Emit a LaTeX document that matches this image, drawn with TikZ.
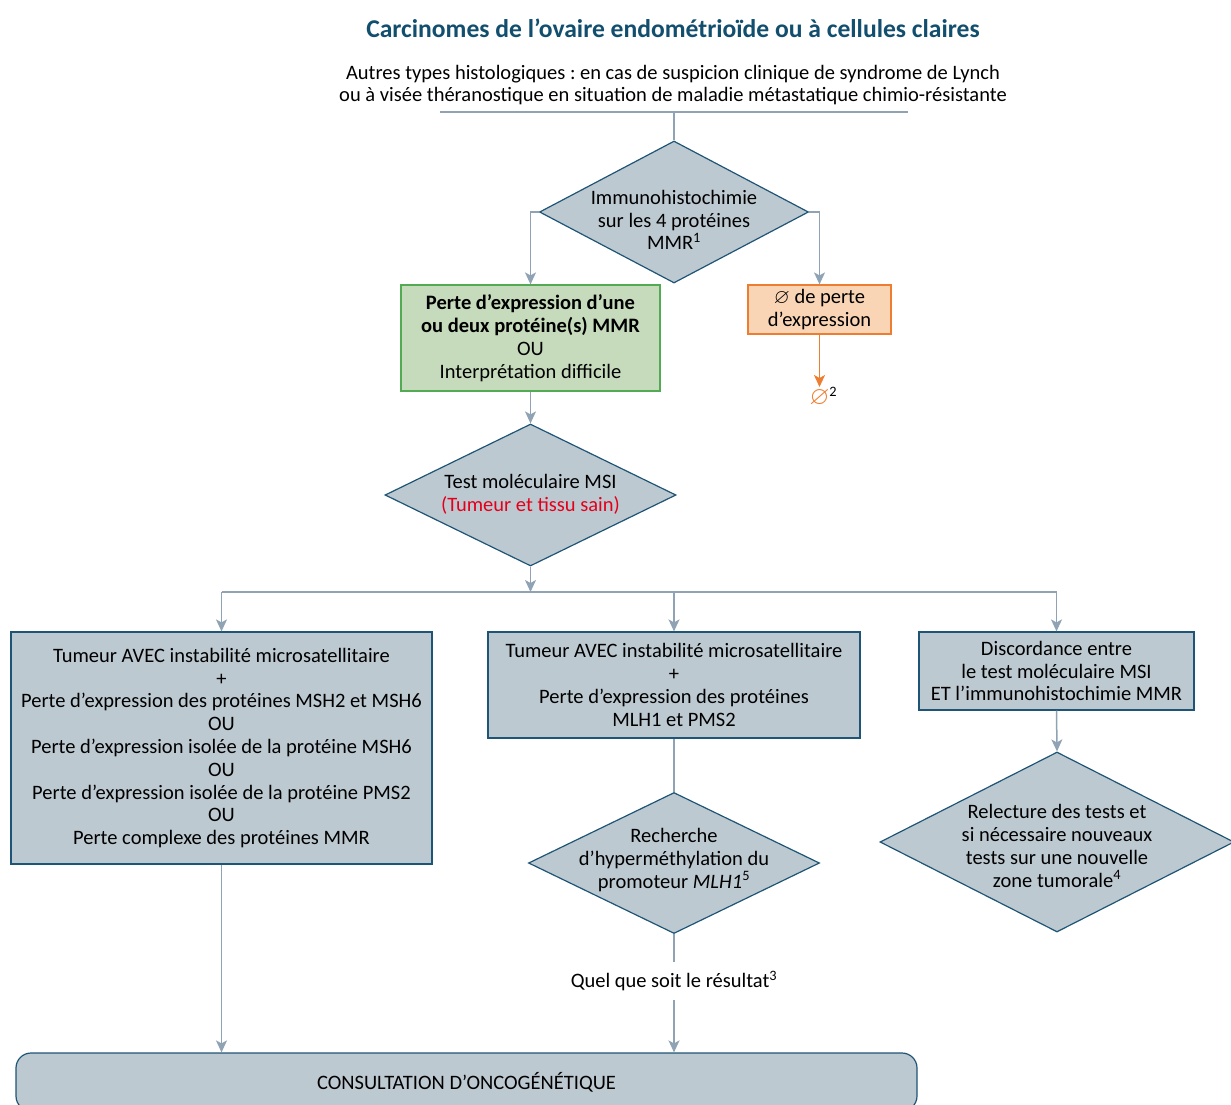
\documentclass[tikz,border=0pt]{standalone}
\usepackage{amssymb}
\usepackage{fontspec}
\setmainfont{Carlito}
\usepackage{tikz}
\usetikzlibrary{shapes.geometric}
\usetikzlibrary{arrows.meta}
\frenchspacing

\begin{document}
\begin{tikzpicture}[x=1pt,y=1pt,yscale=-1,xscale=1,
  every node/.style={font=\fontsize{20.5}{22.8}\selectfont},
  texte/.style={align=center, inner sep=0pt},
  boite/.style={draw={rgb, 255:red, 30; green, 84; blue, 118}, fill={rgb, 255:red, 189; green, 201; blue, 209}, line width=1.2pt, align=center, inner sep=0pt},
  losange/.style={diamond, draw={rgb, 255:red, 30; green, 84; blue, 118}, fill={rgb, 255:red, 189; green, 201; blue, 209}, line width=1.2pt, inner sep=0pt},
  lien/.style={draw={rgb, 255:red, 143; green, 163; blue, 181}, line width=1.5pt},
  fleche/.style={lien, -{Stealth[length=12pt, width=11pt, inset=3pt]}},
]
\clip (0,0) rectangle (1231,1104);

% Text Node
\node [texte, font=\fontsize{25.6}{30}\selectfont\bfseries, text={rgb, 255:red, 18; green, 78; blue, 110}] (titre) at (673,28) {Carcinomes de l’ovaire endométrioïde ou à cellules claires};
% Text Node
\node [texte] (soustitre) at (673,85) {Autres types histologiques : en cas de suspicion clinique de syndrome de Lynch\\ou à visée théranostique en situation de maladie métastatique chimio-résistante};

%Shape: Line under the subtitle
\coordinate (trait-g) at (440,112);
\coordinate (trait-d) at (908,112);
\coordinate (trait-m) at (674,112);

%Shape: Diamond
\node [losange, minimum width=269pt, minimum height=142pt] (ihc) at (674,212) {};
% Text Node
\node [texte] (ihc-txt) at (674,220) {Immunohistochimie\\sur les 4 protéines\\MMR\textsuperscript{1}};

%Shape: Rectangle
\node [boite, draw={rgb, 255:red, 82; green, 170; blue, 82}, fill={rgb, 255:red, 198; green, 219; blue, 187}, minimum width=259pt, minimum height=106pt] (perte) at (530.5,338) {\textbf{Perte d’expression d’une}\\\textbf{ou deux protéine(s) MMR}\\OU\\Interprétation difficile};
%Shape: Rectangle
\node [boite, draw={rgb, 255:red, 237; green, 125; blue, 49}, fill={rgb, 255:red, 250; green, 213; blue, 181}, minimum width=143pt, minimum height=49pt] (sansperte) at (819.5,309.5) {$\varnothing$ de perte\\d’expression};
% Text Node
\node [texte, anchor=north] (vide) at (819.5,387) {\textcolor[RGB]{237,125,49}{\scalebox{1.25}{$\varnothing$}}\rlap{\textsuperscript{2}}};

%Shape: Diamond
\node [losange, minimum width=291pt, minimum height=142pt] (msi) at (530.5,495) {};
% Text Node
\node [texte] (msi-txt) at (530.5,494) {Test moléculaire MSI\\\textcolor[RGB]{228,0,27}{(Tumeur et tissu sain)}};

%Shape: Split line
\coordinate (rep) at (530.5,592);
\coordinate (rep-g) at (221.5,592);
\coordinate (rep-d) at (1056.5,592);

%Shape: Rectangle
\node [boite, minimum width=421pt, minimum height=232pt] (instab) at (221.5,748) {Tumeur AVEC instabilité microsatellitaire\\+\\Perte d’expression des protéines MSH2 et MSH6\\OU\\Perte d’expression isolée de la protéine MSH6\\OU\\Perte d’expression isolée de la protéine PMS2\\OU\\Perte complexe des protéines MMR};
%Shape: Rectangle
\node [boite, minimum width=372pt, minimum height=106pt] (mlh) at (674,685) {Tumeur AVEC instabilité microsatellitaire\\+\\Perte d’expression des protéines\\MLH1 et PMS2};
%Shape: Rectangle
\node [boite, minimum width=275pt, minimum height=78pt] (discord) at (1056.5,671) {Discordance entre\\le test moléculaire MSI\\ET l’immunohistochimie MMR};

%Shape: Diamond
\node [losange, minimum width=291pt, minimum height=141pt] (hyper) at (674,863) {};
% Text Node
\node [texte] (hyper-txt) at (674,860) {Recherche\\d’hyperméthylation du\\promoteur \textit{MLH1}\textsuperscript{5}};
%Shape: Diamond
\node [losange, minimum width=354pt, minimum height=180pt] (relec) at (1057,842) {};
% Text Node
\node [texte] (relec-txt) at (1057,846) {Relecture des tests et\\si nécessaire nouveaux\\tests sur une nouvelle\\zone tumorale\textsuperscript{4}};

% Text Node
\node [texte, inner ysep=9pt] (quel) at (674,981) {Quel que soit le résultat\textsuperscript{3}};

%Shape: Rounded Rect
\node [boite, rounded corners=15pt, minimum width=901pt, minimum height=58pt] (consult) at (466.5,1082) {CONSULTATION D’ONCOGÉNÉTIQUE};

% Connectors
\draw [lien] (trait-g) -- (trait-d);
\draw [lien] (trait-m) -- (ihc.north);
\draw [fleche] (ihc.west) -| (perte.north);
\draw [fleche] (ihc.east) -| (sansperte.north);
\draw [fleche, draw={rgb, 255:red, 237; green, 125; blue, 49}] (sansperte.south) -- (vide.north);
\draw [fleche] (perte.south) -- (msi.north);
\draw [fleche] (msi.south) -- (rep);
\draw [lien] (rep-g) -- (rep-d);
\draw [fleche] (rep-g) -- (instab.north);
\draw [fleche] (mlh.north |- rep) -- (mlh.north);
\draw [fleche] (rep-d) -- (discord.north);
\draw [lien] (mlh.south) -- (hyper.north);
\draw [lien] (hyper.south) -- (quel.north);
\draw [fleche] (quel.south) -- (quel.south |- consult.north);
\draw [fleche] (discord.south) -- (relec.north);
\draw [fleche] (instab.south) -- (instab.south |- consult.north);

\end{tikzpicture}
\end{document}
